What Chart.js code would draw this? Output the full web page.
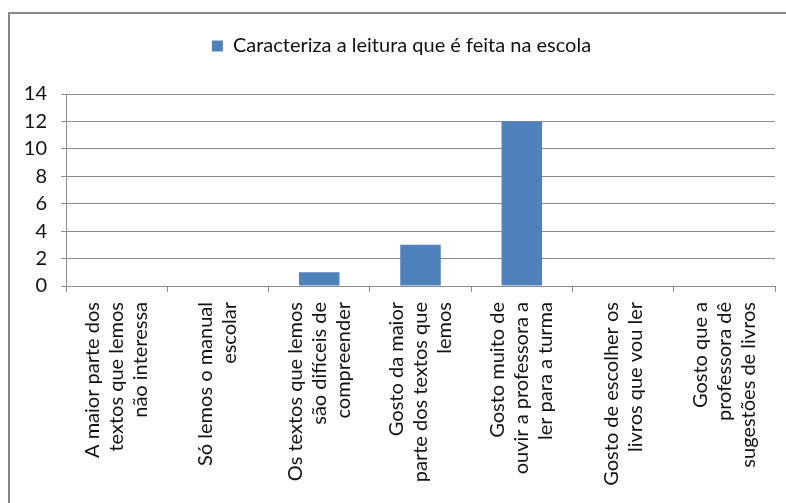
<!DOCTYPE html>
<html>
<head>
<meta charset="utf-8">
<script src="https://cdn.jsdelivr.net/npm/chart.js@4"></script>
<style>
  html, body { margin: 0; padding: 0; background: #fff; overflow: hidden; }
  canvas { display: block; }
</style>
</head>
<body>
<canvas id="leituraChart" width="786" height="503"></canvas>
<script>
var seriesName = 'Caracteriza a leitura que é feita na escola'

// category labels, split in lines as in the picture
var categories = [
    ['A maior parte dos', 'textos que lemos', 'não interessa'],
    ['Só lemos o manual', 'escolar'],
    ['Os textos que lemos', 'são difíceis de', 'compreender'],
    ['Gosto da maior', 'parte dos textos que', 'lemos'],
    ['Gosto muito de', 'ouvir a professora a', 'ler para a turma'],
    ['Gosto de escolher os', 'livros que vou ler'],
    ['Gosto que a', 'professora dê', 'sugestões de livros']
]
var values = [0, 0, 1, 3, 12, 0, 0]
var yTicks = [0, 2, 4, 6, 8, 10, 12, 14]

var gridColor = '#8c8c8c'
var barColor = '#4f81bd'

Chart.defaults.font.family = 'Lato, "Liberation Sans", sans-serif'
Chart.defaults.color = '#000'

// Excel centres the block of lines of a rotated label on the category
var centerRotatedLabels = {
    id: 'centerRotatedLabels',
    afterLayout: function(chart) {
        var scale = chart.scales.x
        var items = scale.getLabelItems(chart.chartArea)
        items.forEach(function(it) {
            var n = Array.isArray(it.label) ? it.label.length : 1
            it.options.translation[0] -= (n - 1) * it.font.lineHeight / 2
        })
    }
}

// more room under the legend, and legend a bit to the right like in Excel
var legendTweak = {
    id: 'legendTweak',
    beforeInit: function(chart) {
        var lg = chart.legend
        var fit = lg.fit
        var draw = lg.draw
        lg.fit = function() {
            fit.apply(lg, arguments)
            lg.height += 28
        }
        lg.draw = function() {
            lg.ctx.save()
            lg.ctx.translate(14, 0)
            draw.apply(lg, arguments)
            lg.ctx.restore()
        }
    }
}

// grey frame of the chart object (only top and left show in the picture)
var chartFrame = {
    id: 'chartFrame',
    beforeDraw: function(chart) {
        var c = chart.ctx
        c.save()
        c.fillStyle = '#898989'
        c.fillRect(8, 12, chart.width - 8, 2)
        c.fillRect(8, 12, 2, chart.height - 12)
        c.restore()
    }
}

var ctx = document.getElementById('leituraChart').getContext('2d')

var chart = new Chart(ctx, {
    type: 'bar',
    data: {
        labels: categories,
        datasets: [{
            label: seriesName,
            data: values,
            backgroundColor: barColor,
            borderWidth: 0,
            barPercentage: 0.4,
            categoryPercentage: 1.0
        }]
    },
    plugins: [centerRotatedLabels, legendTweak, chartFrame],
    options: {
        responsive: false,
        animation: false,
        layout: { padding: { top: 26, left: 0, right: 11, bottom: 0 } },
        plugins: {
            legend: {
                position: 'top',
                labels: {
                    boxWidth: 11,
                    boxHeight: 11,
                    padding: 10,
                    font: { size: 20 },
                    color: '#111'
                }
            },
            tooltip: { enabled: false }
        },
        scales: {
            x: {
                afterFit: function(s) {
                    s.height = 217
                    s.paddingLeft = 0
                    s.paddingRight = 0
                },
                grid: { drawOnChartArea: false, tickLength: 6, color: gridColor, offset: true },
                border: { color: gridColor },
                ticks: {
                    autoSkip: false,
                    minRotation: 90,
                    maxRotation: 90,
                    padding: 10,
                    font: { size: 20, lineHeight: 1.2 },
                    color: '#111'
                }
            },
            y: {
                min: 0,
                max: 14,
                afterFit: function(s) { s.width = 66 },
                afterBuildTicks: function(s) { s.ticks = yTicks.map(function(v) { return { value: v } }) },
                grid: { color: gridColor, tickLength: 5 },
                border: { color: gridColor },
                ticks: {
                    padding: 14,
                    font: { size: 20 },
                    color: '#111'
                }
            }
        }
    }
})
</script>
</body>
</html>
